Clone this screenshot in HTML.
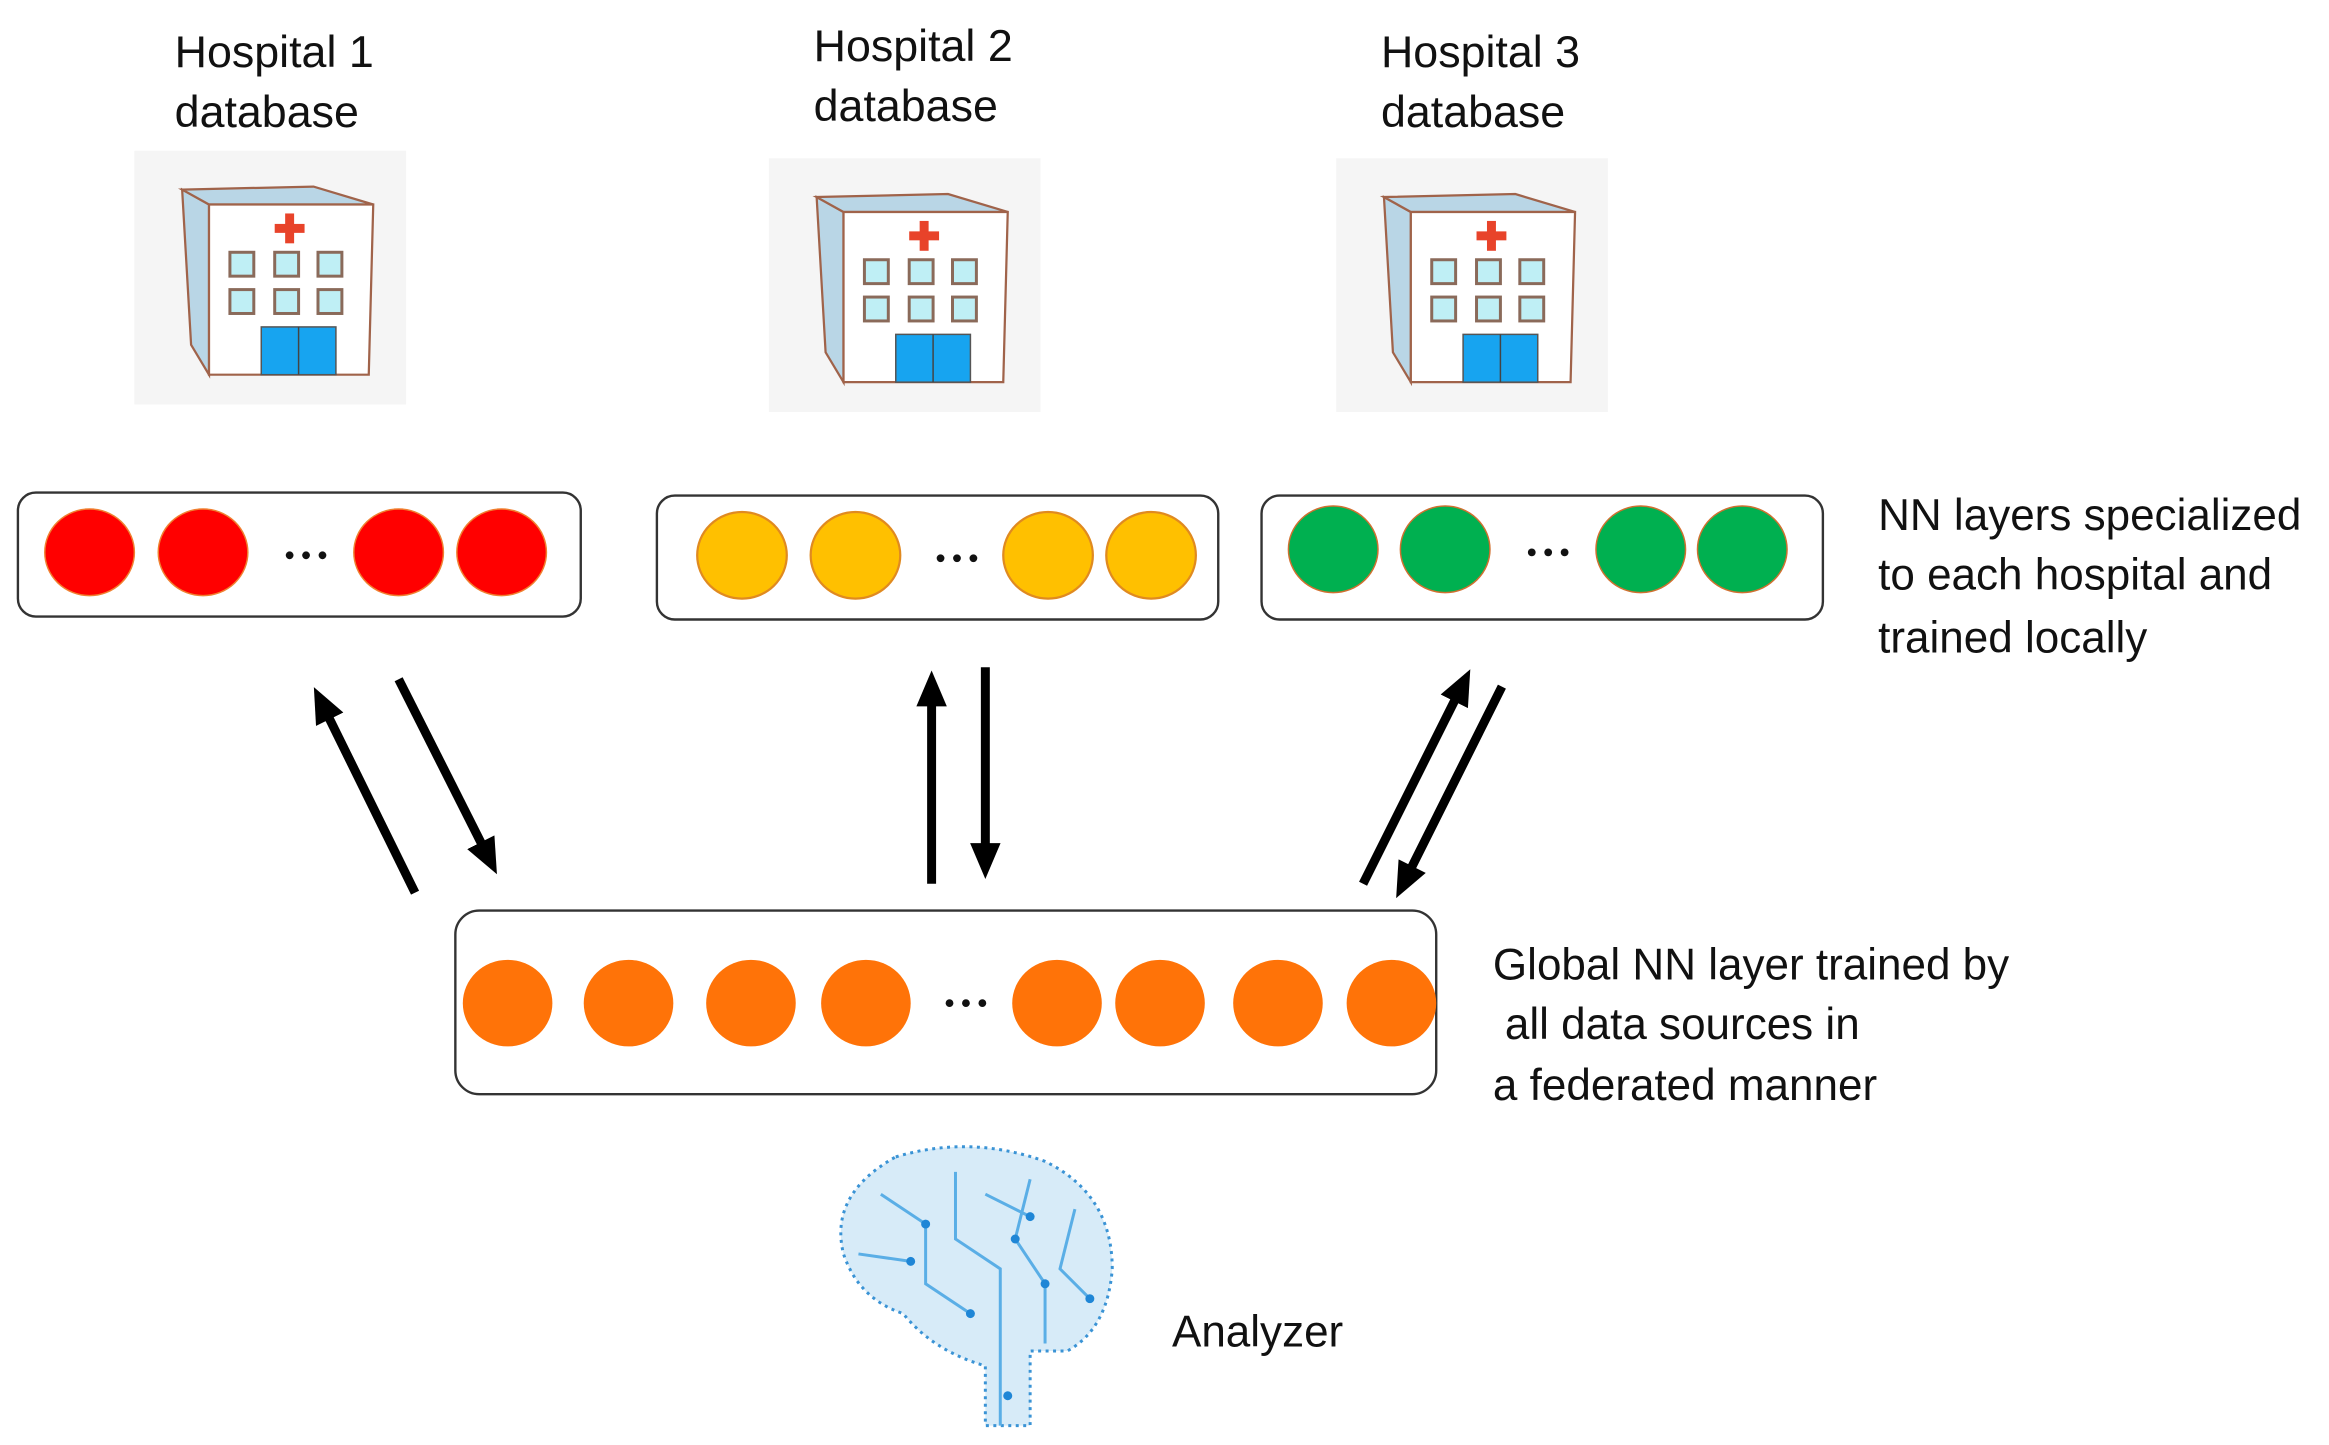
<!DOCTYPE html>
<html><head><meta charset="utf-8"><style>
html,body{margin:0;padding:0;background:#fff;}
svg{display:block;}
text{font-family:"Liberation Sans",sans-serif;fill:#111;}
</style></head><body>
<svg width="2329" height="1445" viewBox="0 0 1560 968" preserveAspectRatio="none" xmlns="http://www.w3.org/2000/svg">
<defs>
<g id="hosp">
<rect x="0" y="0" width="182" height="170" fill="#f5f5f5"/>
<polygon points="32,26 50,36 50,150 38,130" fill="#b9d6e6" stroke="#a0634a" stroke-width="1.5"/>
<polygon points="32,26 120,24 160,36 50,36" fill="#b9d6e6" stroke="#a0634a" stroke-width="1.5"/>
<polygon points="50,36 160,36 157,150 50,150" fill="#fff" stroke="#a0634a" stroke-width="1.5"/>
<rect x="101" y="42" width="6" height="20" fill="#e8432a"/><rect x="94" y="49" width="20" height="6" fill="#e8432a"/>
<g fill="#bfeff5" stroke="#8a6a5a" stroke-width="2">
<rect x="64" y="68" width="16" height="16"/><rect x="94" y="68" width="16" height="16"/><rect x="123" y="68" width="16" height="16"/>
<rect x="64" y="93" width="16" height="16"/><rect x="94" y="93" width="16" height="16"/><rect x="123" y="93" width="16" height="16"/>
</g>
<rect x="85" y="118" width="50" height="32" fill="#17a4f0" stroke="#555" stroke-width="1"/>
<line x1="110" y1="118" x2="110" y2="150" stroke="#444" stroke-width="1"/>
</g>
<marker id="ah" markerWidth="4" markerHeight="4" refX="2.2" refY="2" orient="auto" markerUnits="strokeWidth"><path d="M0,0.3 L4,2 L0,3.7 Z" fill="#000"/></marker>
</defs>

<text x="117" y="45" font-size="30">Hospital 1</text>
<text x="117" y="85" font-size="30">database</text>
<text x="545" y="41" font-size="30">Hospital 2</text>
<text x="545" y="81" font-size="30">database</text>
<text x="925" y="45" font-size="30">Hospital 3</text>
<text x="925" y="85" font-size="30">database</text>

<use href="#hosp" x="90" y="101"/>
<use href="#hosp" x="515" y="106"/>
<use href="#hosp" x="895" y="106"/>

<g stroke="#333" stroke-width="1.6" fill="#fff">
<rect x="12" y="330" width="377" height="83" rx="12"/>
<rect x="440" y="332" width="376" height="83" rx="12"/>
<rect x="845" y="332" width="376" height="83" rx="12"/>
<rect x="305" y="610" width="657" height="123" rx="16"/>
</g>
<g fill="#ff0000" stroke="#f08030" stroke-width="1">
<ellipse cx="60" cy="370" rx="30" ry="29"/><ellipse cx="136" cy="370" rx="30" ry="29"/>
<ellipse cx="267" cy="370" rx="30" ry="29"/><ellipse cx="336" cy="370" rx="30" ry="29"/>
</g>
<g fill="#ffc000" stroke="#e08a20" stroke-width="1.5">
<ellipse cx="497" cy="372" rx="30" ry="29"/><ellipse cx="573" cy="372" rx="30" ry="29"/>
<ellipse cx="702" cy="372" rx="30" ry="29"/><ellipse cx="771" cy="372" rx="30" ry="29"/>
</g>
<g fill="#00b050" stroke="#d07030" stroke-width="1">
<ellipse cx="893" cy="368" rx="30" ry="29"/><ellipse cx="968" cy="368" rx="30" ry="29"/>
<ellipse cx="1099" cy="368" rx="30" ry="29"/><ellipse cx="1167" cy="368" rx="30" ry="29"/>
</g>
<g fill="#ff7308">
<ellipse cx="340" cy="672" rx="30" ry="29"/><ellipse cx="421" cy="672" rx="30" ry="29"/>
<ellipse cx="503" cy="672" rx="30" ry="29"/><ellipse cx="580" cy="672" rx="30" ry="29"/>
<ellipse cx="708" cy="672" rx="30" ry="29"/><ellipse cx="777" cy="672" rx="30" ry="29"/>
<ellipse cx="856" cy="672" rx="30" ry="29"/><ellipse cx="932" cy="672" rx="30" ry="29"/>
</g>
<g fill="#111">
<circle cx="194" cy="372" r="2.6"/><circle cx="205" cy="372" r="2.6"/><circle cx="216" cy="372" r="2.6"/>
<circle cx="630" cy="374" r="2.6"/><circle cx="641" cy="374" r="2.6"/><circle cx="652" cy="374" r="2.6"/>
<circle cx="1026" cy="370" r="2.6"/><circle cx="1037" cy="370" r="2.6"/><circle cx="1048" cy="370" r="2.6"/>
<circle cx="636" cy="672" r="2.6"/><circle cx="647" cy="672" r="2.6"/><circle cx="658" cy="672" r="2.6"/>
</g>

<g stroke="#000" stroke-width="6" fill="none" marker-end="url(#ah)">
<line x1="278" y1="598" x2="215" y2="470"/>
<line x1="267" y1="455" x2="328" y2="576"/>
<line x1="624" y1="592" x2="624" y2="460"/>
<line x1="660" y1="447" x2="660" y2="578"/>
<line x1="913" y1="592" x2="980" y2="458"/>
<line x1="1006" y1="460" x2="940" y2="592"/>
</g>

<text x="1258" y="355" font-size="29.5">NN layers specialized</text>
<text x="1258" y="395" font-size="29.5">to each hospital and</text>
<text x="1258" y="437" font-size="29.5">trained locally</text>
<text x="1000" y="656" font-size="29.5">Global NN layer trained by</text>
<text x="1008" y="696" font-size="29.5">all data sources in</text>
<text x="1000" y="737" font-size="29.5">a federated manner</text>
<text x="785" y="902" font-size="29.5">Analyzer</text>

<g>
<path d="M600,775 Q650,760 700,778 Q745,800 745,850 Q742,890 715,905 L690,905 L690,955 L660,955 L660,915 Q625,905 605,880 Q575,870 565,840 Q555,800 600,775 Z" fill="#d7ebf8" stroke="#3a93d5" stroke-width="2" stroke-dasharray="2,3"/>
<g stroke="#5aaee6" stroke-width="2" fill="none">
<path d="M590,800 L620,820 L620,860 L650,880"/><path d="M640,785 L640,830 L670,850 L670,955"/>
<path d="M690,790 L680,830 L700,860 L700,900"/><path d="M720,810 L710,850 L730,870"/>
<path d="M575,840 L610,845"/><path d="M660,800 L690,815"/>
</g>
<g fill="#1f86d6">
<circle cx="620" cy="820" r="3"/><circle cx="650" cy="880" r="3"/><circle cx="700" cy="860" r="3"/><circle cx="730" cy="870" r="3"/>
<circle cx="680" cy="830" r="3"/><circle cx="610" cy="845" r="3"/><circle cx="690" cy="815" r="3"/><circle cx="675" cy="935" r="3"/>
</g>
</g>
</svg>
</body></html>
